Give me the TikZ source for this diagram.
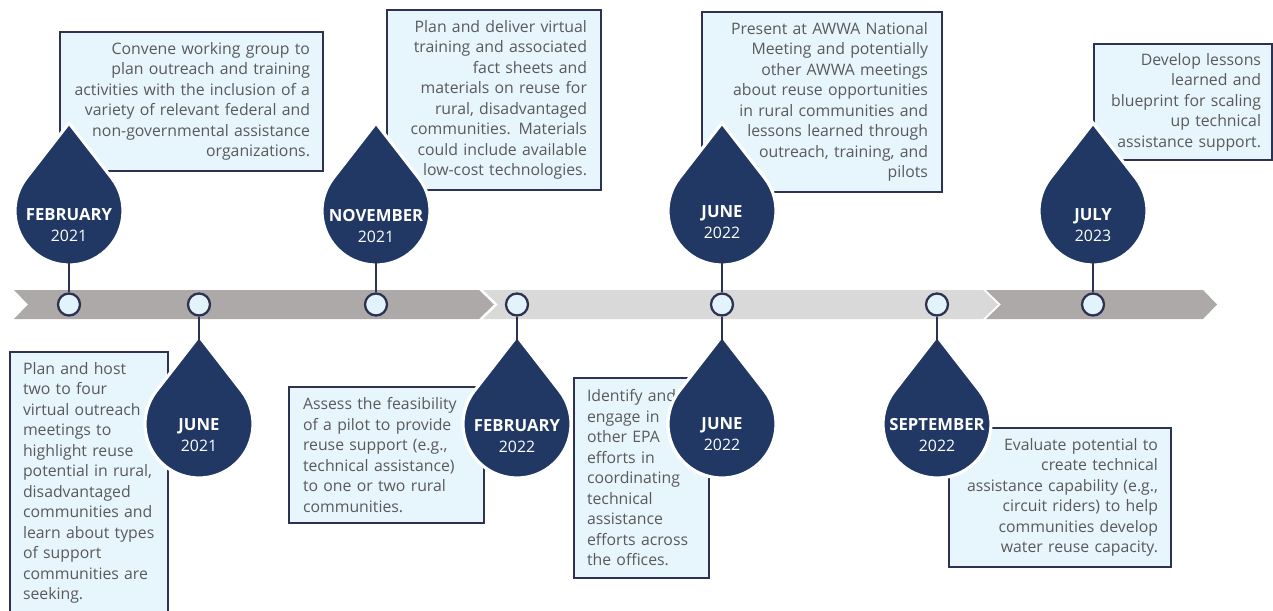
\documentclass[tikz,border=0pt]{standalone}
\usepackage{fontspec}
\setmainfont{Open Sans}
\usepackage{tikz}
\usetikzlibrary{positioning}
\tikzset{>=latex}
\definecolor{dropblue}{HTML}{213864}
\definecolor{boxline}{HTML}{2E3252}
\definecolor{boxfill}{HTML}{E7F5FC}
\definecolor{dotfill}{HTML}{E3F3FC}
\definecolor{txtgray}{HTML}{5A5A5A}
\definecolor{banddark}{HTML}{ADA9A8}
\definecolor{bandlight}{HTML}{D9D9D9}

\begin{document}
\begin{tikzpicture}[x=0.02cm,y=0.02cm,
	tbox/.style={draw=boxline,fill=boxfill,line width=1.4pt,text=txtgray,font=\fontsize{9}{11.67}\selectfont,inner ysep=0pt},
	dlabel/.style={text=white,align=center,font=\fontsize{9}{12.2}\selectfont},
	tdot/.style={circle,draw=boxline,fill=dotfill,line width=1.3pt,minimum size=0.44cm,inner sep=0pt},
	tstem/.style={draw=boxline,line width=1.1pt},
	raindrop/.pic={\path[fill=dropblue,draw=white,line width=1.8pt] (0,88) -- (37.3:54) arc[start angle=37.3,end angle=-217.3,radius=54] -- cycle;}]
	\useasboundingbox (0,0) rectangle (1273,-611);
	% timeline band
	\fill[banddark] (14,-290) -- (479,-290) -- (494,-304.5) -- (479,-319) -- (14,-319) -- (28,-304.5) -- cycle;
	\fill[bandlight] (483,-290) -- (983,-290) -- (998,-304.5) -- (983,-319) -- (483,-319) -- (498,-304.5) -- cycle;
	\fill[banddark] (986,-290) -- (1203,-290) -- (1217,-304.5) -- (1203,-319) -- (986,-319) -- (1001,-304.5) -- cycle;
	% boxes
	\node[tbox,text width=4.74cm,inner xsep=0.26cm,minimum height=2.78cm,align=right] (b1) at (191.5,-101.5)
		{Convene working group to\\plan outreach and training\\activities with the inclusion of a\\variety of relevant federal and\\non-governmental assistance\\organizations.};
	\node[tbox,text width=3.72cm,inner xsep=0.28cm,minimum height=3.6cm,align=right] (b2) at (494,-100)
		{Plan and deliver virtual\\training and associated\\fact sheets and\\materials on reuse for\\rural, disadvantaged\\communities. Materials\\could include available\\low-cost technologies.};
	\node[tbox,text width=4.24cm,inner xsep=0.28cm,minimum height=3.6cm,align=right] (b3) at (822,-102)
		{Present at AWWA National\\Meeting and potentially\\other AWWA meetings\\about reuse opportunities\\in rural communities and\\lessons learned through\\outreach, training, and\\pilots};
	\node[tbox,text width=3.12cm,inner xsep=0.22cm,minimum height=2.32cm,align=right] (b4) at (1183,-102)
		{Develop lessons\\learned and\\blueprint for scaling\\up technical\\assistance support.};
	\node[tbox,text width=2.64cm,inner xsep=0.26cm,minimum height=5.23cm,align=left] (b5) at (89,-482.75)
		{Plan and host\\two to four\\virtual outreach\\meetings to\\highlight reuse\\potential in rural,\\disadvantaged\\communities and\\learn about types\\of support\\communities are\\seeking.};
	\node[tbox,text width=3.34cm,inner xsep=0.28cm,minimum height=2.72cm,align=left] (b6) at (386.5,-455)
		{Assess the feasibility\\of a pilot to provide\\reuse support (e.g.,\\technical assistance)\\to one or two rural\\communities.};
	\node[tbox,text width=2.18cm,inner xsep=0.26cm,minimum height=4cm,align=left] (b7) at (641.5,-478)
		{Identify and\\engage in\\other EPA\\efforts in\\coordinating\\technical\\assistance\\efforts across\\the offices.};
	\node[tbox,text width=3.92cm,inner xsep=0.26cm,minimum height=2.78cm,align=right] (b8) at (1060,-497.5)
		{Evaluate potential to\\create technical\\assistance capability (e.g.,\\circuit riders) to help\\communities develop\\water reuse capacity.};
	% drops above
	\pic at (69,-211) {raindrop};
	\pic at (376,-211) {raindrop};
	\pic at (722,-211) {raindrop};
	\pic at (1093,-211) {raindrop};
	% drops below
	\pic at (199,-424) {raindrop};
	\pic at (517,-424) {raindrop};
	\pic at (722,-424) {raindrop};
	\pic at (937,-424) {raindrop};
	\node[dlabel] (m1) at (69,-225) {{\bfseries\fontsize{9.5}{12.2}\selectfont FEBRUARY}\\2021};
	\node[dlabel] (m2) at (376,-226) {{\bfseries\fontsize{9.5}{12.2}\selectfont NOVEMBER}\\2021};
	\node[dlabel] (m3) at (722,-222) {{\bfseries\fontsize{9.5}{12.2}\selectfont JUNE}\\2022};
	\node[dlabel] (m4) at (1093,-225) {{\bfseries\fontsize{9.5}{12.2}\selectfont JULY}\\2023};
	\node[dlabel] (m5) at (199,-435) {{\bfseries\fontsize{9.5}{12.2}\selectfont JUNE}\\2021};
	\node[dlabel] (m6) at (517,-436) {{\bfseries\fontsize{9.5}{12.2}\selectfont FEBRUARY}\\2022};
	\node[dlabel] (m7) at (722,-434) {{\bfseries\fontsize{9.5}{12.2}\selectfont JUNE}\\2022};
	\node[dlabel] (m8) at (937,-435) {{\bfseries\fontsize{9.5}{12.2}\selectfont SEPTEMBER}\\2022};
	% dots on the band
	\node[tdot] (d1) at (69,-304.5) {};
	\node[tdot] (d2) at (199,-304.5) {};
	\node[tdot] (d3) at (376,-304.5) {};
	\node[tdot] (d4) at (517,-304.5) {};
	\node[tdot] (d5) at (722,-304.5) {};
	\node[tdot] (d6) at (937,-304.5) {};
	\node[tdot] (d7) at (1093,-304.5) {};
	\coordinate (s1) at (69,-257);
	\coordinate (s2) at (199,-350);
	\coordinate (s3) at (376,-257);
	\coordinate (s4) at (517,-350);
	\coordinate (s5) at (722,-257);
	\coordinate (s5b) at (722,-350);
	\coordinate (s6) at (937,-350);
	\coordinate (s7) at (1093,-257);
	\draw[tstem] (s1) -- (d1);
	\draw[tstem] (d2) -- (s2);
	\draw[tstem] (s3) -- (d3);
	\draw[tstem] (d4) -- (s4);
	\draw[tstem] (s5) -- (d5);
	\draw[tstem] (d5) -- (s5b);
	\draw[tstem] (d6) -- (s6);
	\draw[tstem] (s7) -- (d7);
\end{tikzpicture}
\end{document}
